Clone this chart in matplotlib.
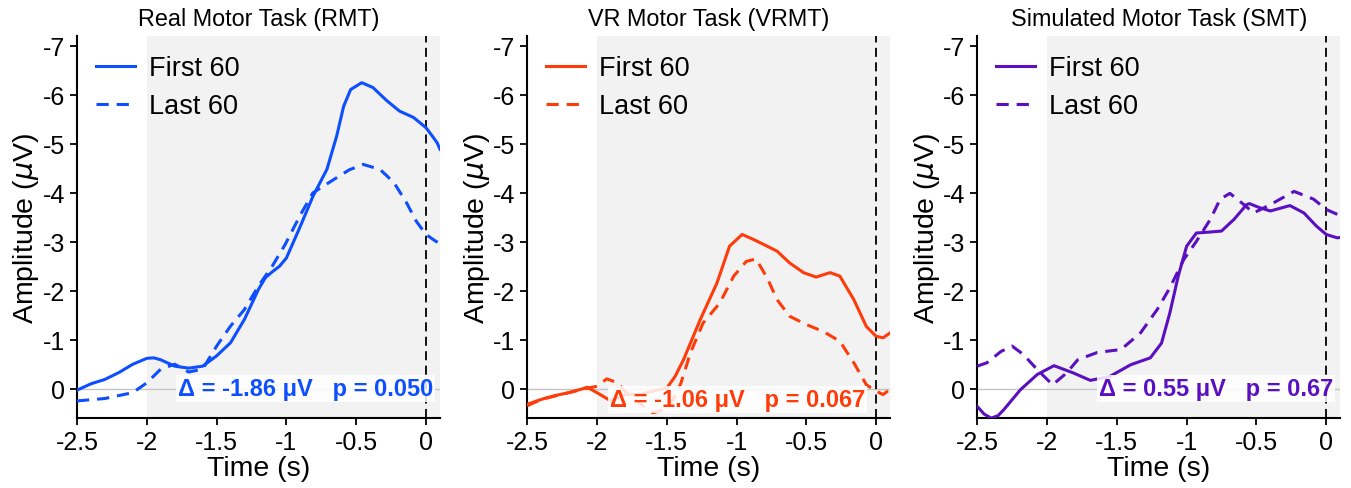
import matplotlib
matplotlib.use("Agg")
import matplotlib.pyplot as plt
from matplotlib.ticker import FuncFormatter

plt.rcParams["font.family"] = ["Liberation Sans", "DejaVu Sans"]
plt.rcParams["axes.unicode_minus"] = False

# =========================
# DATOS
# =========================
titulos = ["Real Motor Task (RMT)", "VR Motor Task (VRMT)", "Simulated Motor Task (SMT)"]
colores = ["#0D4FFF", "#FF3B0A", "#5A10C0"]
textos = ["Δ = -1.86 μV   p = 0.050", "Δ = -1.06 μV   p = 0.067", "Δ = 0.55 μV   p = 0.67"]

# RMT
rmt_t1 = [-2.5, -2.4, -2.3, -2.2, -2.1, -2.0, -1.95, -1.9, -1.8, -1.7, -1.6, -1.5, -1.4, -1.3, -1.2,
          -1.15, -1.1, -1.05, -1.0, -0.9, -0.81, -0.71, -0.64, -0.59, -0.54, -0.46, -0.38, -0.28,
          -0.19, -0.09, 0.0, 0.05, 0.08, 0.1]
rmt_first = [0.03, -0.1, -0.19, -0.33, -0.5, -0.62, -0.63, -0.59, -0.46, -0.42, -0.46, -0.67, -0.94, -1.42, -2.03,
             -2.27, -2.39, -2.5, -2.67, -3.32, -3.93, -4.48, -5.16, -5.77, -6.11, -6.25, -6.15, -5.88,
             -5.67, -5.54, -5.33, -5.14, -5.02, -4.89]
rmt_t2 = [-2.5, -2.3, -2.1, -2.0, -1.9, -1.8, -1.7, -1.6, -1.5, -1.4, -1.3, -1.2, -1.1, -1.01,
          -0.9, -0.81, -0.64, -0.55, -0.45, -0.33, -0.23, -0.14, -0.07, 0.0, 0.07, 0.1]
rmt_last = [0.25, 0.2, 0.08, -0.12, -0.4, -0.5, -0.34, -0.4, -0.87, -1.28, -1.62, -2.1, -2.51, -2.94,
            -3.55, -4.0, -4.31, -4.47, -4.58, -4.48, -4.21, -3.8, -3.42, -3.15, -3.01, -2.97]

# VRMT
vr_t1 = [-2.5, -2.4, -2.3, -2.2, -2.1, -2.07, -2.0, -1.9, -1.8, -1.7, -1.6, -1.5, -1.44, -1.38, -1.26,
         -1.14, -1.05, -0.96, -0.88, -0.78, -0.71, -0.62, -0.52, -0.43, -0.33, -0.26, -0.16, -0.07,
         0.0, 0.05, 0.1]
vr_first = [0.32, 0.22, 0.14, 0.08, 0.0, -0.03, 0.08, 0.25, 0.12, 0.12, 0.05, -0.01, -0.25, -0.59, -1.41,
            -2.16, -2.91, -3.15, -3.05, -2.91, -2.81, -2.57, -2.37, -2.28, -2.37, -2.3, -1.82, -1.27,
            -1.07, -1.04, -1.14]
vr_t2 = [-2.5, -2.4, -2.3, -2.2, -2.1, -2.0, -1.93, -1.85, -1.8, -1.7, -1.6, -1.5, -1.45, -1.4, -1.33,
         -1.24, -1.12, -1.02, -0.93, -0.86, -0.78, -0.71, -0.62, -0.5, -0.38, -0.26, -0.16, -0.07,
         0.0, 0.05, 0.1]
vr_last = [0.35, 0.22, 0.15, 0.08, 0.01, -0.05, -0.2, -0.12, 0.05, 0.29, 0.49, 0.42, 0.2, -0.1, -0.73,
           -1.34, -1.75, -2.3, -2.6, -2.65, -2.26, -1.82, -1.48, -1.31, -1.17, -0.97, -0.53, -0.08,
           0.05, 0.12, 0.01]

# SMT
smt_t1 = [-2.5, -2.45, -2.4, -2.35, -2.31, -2.19, -2.07, -1.95, -1.81, -1.69, -1.55, -1.4, -1.26,
          -1.18, -1.12, -1.06, -1.0, -0.93, -0.83, -0.75, -0.66, -0.57, -0.55, -0.48, -0.4, -0.26,
          -0.16, -0.07, 0.0, 0.08, 0.1]
smt_first = [0.36, 0.52, 0.6, 0.55, 0.43, 0.02, -0.29, -0.47, -0.32, -0.17, -0.25, -0.49, -0.63,
             -0.93, -1.55, -2.3, -2.91, -3.18, -3.2, -3.22, -3.46, -3.76, -3.78, -3.7, -3.63, -3.74,
             -3.59, -3.32, -3.15, -3.08, -3.09]
smt_t2 = [-2.5, -2.43, -2.33, -2.25, -2.17, -2.07, -1.96, -1.86, -1.78, -1.64, -1.47, -1.33, -1.21,
          -1.12, -1.02, -0.93, -0.83, -0.76, -0.69, -0.59, -0.52, -0.4, -0.23, -0.09, 0.0, 0.08, 0.1]
smt_last = [-0.46, -0.53, -0.76, -0.87, -0.7, -0.39, -0.08, -0.32, -0.59, -0.74, -0.8, -1.14, -1.62,
            -2.06, -2.64, -3.01, -3.46, -3.87, -3.99, -3.76, -3.59, -3.76, -4.03, -3.87, -3.66, -3.56, -3.55]

series = [
    (rmt_t1, rmt_first, rmt_t2, rmt_last),
    (vr_t1, vr_first, vr_t2, vr_last),
    (smt_t1, smt_first, smt_t2, smt_last),
]
pos_texto = [(0.05, 0.0), (-0.08, 0.22), (0.05, 0.0)]

# =========================
# FIGURA
# =========================
fig, axes = plt.subplots(1, 3, figsize=(13.51, 4.89), dpi=100)
fig.subplots_adjust(left=0.057, right=0.992, top=0.924, bottom=0.143, wspace=0.24)

formato = FuncFormatter(lambda v, p: "%g" % v)

for i, ax in enumerate(axes):
    t1, y1, t2, y2 = series[i]
    c = colores[i]
    ax.axvspan(-2, 0.1, color="#f2f2f2", lw=0, zorder=0)
    ax.axhline(0, color="#c4c4c4", lw=1, zorder=1)
    ax.axvline(0, color="black", lw=1.3, ls=(0, (5, 3)), zorder=2)
    ax.plot(t1, y1, color=c, lw=2.2, label="First 60", zorder=3)
    ax.plot(t2, y2, color=c, lw=2.2, ls=(0, (4, 2.6)), label="Last 60", zorder=3)

    tx, ty = pos_texto[i]
    ax.text(tx, ty, textos[i], color=c, fontsize=17, fontweight="bold", ha="right", va="center",
            bbox=dict(facecolor="white", alpha=0.85, edgecolor="none", pad=1.5), zorder=4)

    ax.set_xlim(-2.5, 0.1)
    ax.set_ylim(0.6, -7.2)
    ax.set_xticks([-2.5, -2, -1.5, -1, -0.5, 0])
    ax.set_yticks([0, -1, -2, -3, -4, -5, -6, -7])
    ax.xaxis.set_major_formatter(formato)
    ax.yaxis.set_major_formatter(formato)
    ax.tick_params(labelsize=18, width=1.3, length=5)
    for s in ["top", "right"]:
        ax.spines[s].set_visible(False)
    for s in ["left", "bottom"]:
        ax.spines[s].set_linewidth(1.5)
    ax.set_title(titulos[i], fontsize=16.8, pad=8)
    ax.set_xlabel("Time (s)", fontsize=20.5, labelpad=1)
    ax.set_ylabel("Amplitude ($\\mu$V)", fontsize=20.5, labelpad=1)
    ax.legend(loc="upper left", frameon=False, fontsize=19.5, handlelength=1.45,
              handletextpad=0.5, borderaxespad=0.3, labelspacing=0.45)

fig.savefig("out.png", dpi=100)
plt.close()
